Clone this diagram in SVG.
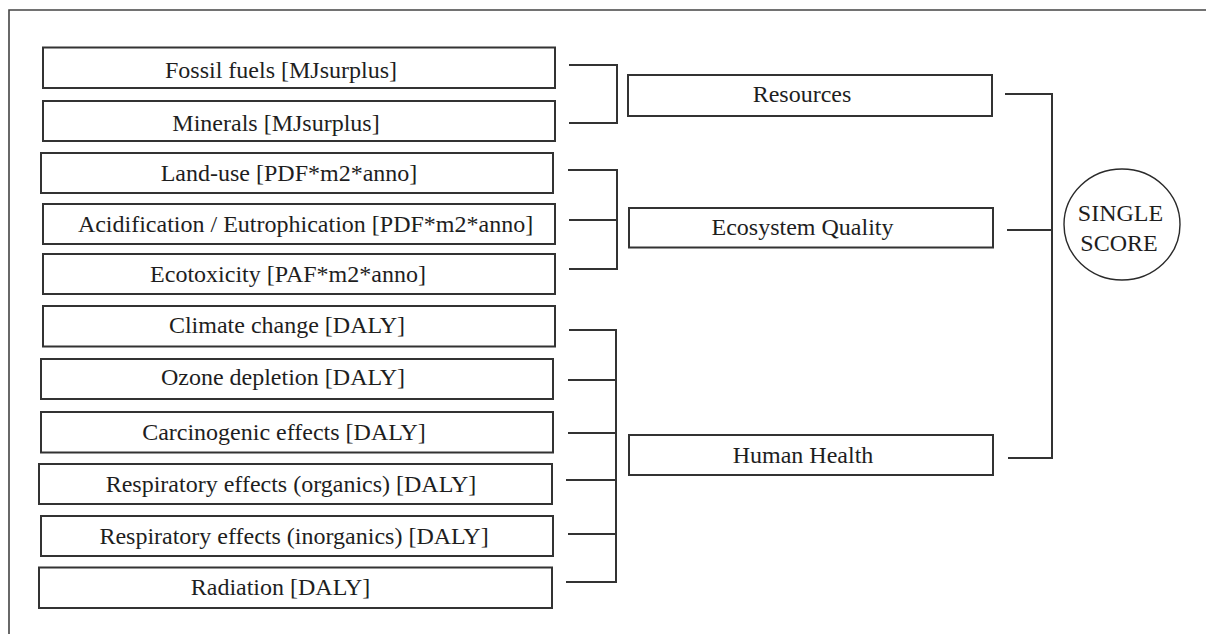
<svg xmlns="http://www.w3.org/2000/svg" width="1206" height="634" viewBox="0 0 1206 634">
  <style>
    .box { fill: #ffffff; stroke: #333333; stroke-width: 2; }
    .lbl { font-family: "Liberation Serif", "Times New Roman", serif; font-size: 24px; fill: #1e1e1e; text-anchor: middle; }
    .wire { fill: none; stroke: #333333; stroke-width: 2; }
    .frame { fill: none; stroke: #444444; stroke-width: 1.6; }
    .ring { fill: #ffffff; stroke: #2a2a2a; stroke-width: 1.4; }
  </style>
  <rect x="0" y="0" width="1206" height="634" fill="#ffffff"/>
  <path class="frame" d="M9,634 V10 H1206"/>

  <!-- impact categories -->
  <g id="fossil-fuels"><rect class="box" x="43" y="47.5" width="512" height="40.5"/><text class="lbl" x="281" y="77.5">Fossil fuels [MJsurplus]</text></g>
  <g id="minerals"><rect class="box" x="43" y="101" width="512" height="40"/><text class="lbl" x="276" y="131">Minerals [MJsurplus]</text></g>
  <g id="land-use"><rect class="box" x="41" y="153" width="512" height="40"/><text class="lbl" x="289" y="180.5">Land-use [PDF*m2*anno]</text></g>
  <g id="acidification"><rect class="box" x="43" y="204" width="512" height="40"/><text class="lbl" x="305.5" y="231.5">Acidification / Eutrophication [PDF*m2*anno]</text></g>
  <g id="ecotoxicity"><rect class="box" x="43" y="254" width="512" height="40"/><text class="lbl" x="288" y="281.5">Ecotoxicity [PAF*m2*anno]</text></g>
  <g id="climate-change"><rect class="box" x="43" y="306" width="512" height="40.5"/><text class="lbl" x="287" y="332.5">Climate change [DALY]</text></g>
  <g id="ozone-depletion"><rect class="box" x="41" y="359" width="512" height="40"/><text class="lbl" x="283" y="384.5">Ozone depletion [DALY]</text></g>
  <g id="carcinogenic"><rect class="box" x="41" y="412" width="512" height="40.5"/><text class="lbl" x="284" y="439.5">Carcinogenic effects [DALY]</text></g>
  <g id="resp-organics"><rect class="box" x="39" y="464" width="513" height="40"/><text class="lbl" x="291" y="491.5">Respiratory effects (organics) [DALY]</text></g>
  <g id="resp-inorganics"><rect class="box" x="41" y="516" width="512" height="40"/><text class="lbl" x="294" y="543.5">Respiratory effects (inorganics) [DALY]</text></g>
  <g id="radiation"><rect class="box" x="39" y="567.5" width="513" height="40.5"/><text class="lbl" x="280.5" y="595">Radiation [DALY]</text></g>

  <!-- damage categories -->
  <g id="resources"><rect class="box" x="628" y="75" width="364" height="41"/><text class="lbl" x="802" y="101.5">Resources</text></g>
  <g id="ecosystem-quality"><rect class="box" x="629" y="208" width="364" height="39.5"/><text class="lbl" x="802.5" y="234.5">Ecosystem Quality</text></g>
  <g id="human-health"><rect class="box" x="629" y="435" width="364" height="40"/><text class="lbl" x="803" y="462.5">Human Health</text></g>

  <!-- single score -->
  <g id="single-score">
    <ellipse class="ring" cx="1122" cy="224.5" rx="58" ry="55.5"/>
    <text class="lbl" x="1120.5" y="220.5">SINGLE</text>
    <text class="lbl" x="1119" y="250.5">SCORE</text>
  </g>

  <!-- bracket connectors -->
  <g id="connectors">
    <path class="wire" d="M569,65 H617 V123 H569"/>
    <path class="wire" d="M568,170 H617 V269 H569 M569,220 H617"/>
    <path class="wire" d="M569,330 H616 V582 H566 M568,380 H616 M568,433 H616 M566,480 H616 M568,534 H616"/>
    <path class="wire" d="M1005,94 H1052 V458 H1008 M1007,230 H1052"/>
  </g>
</svg>
